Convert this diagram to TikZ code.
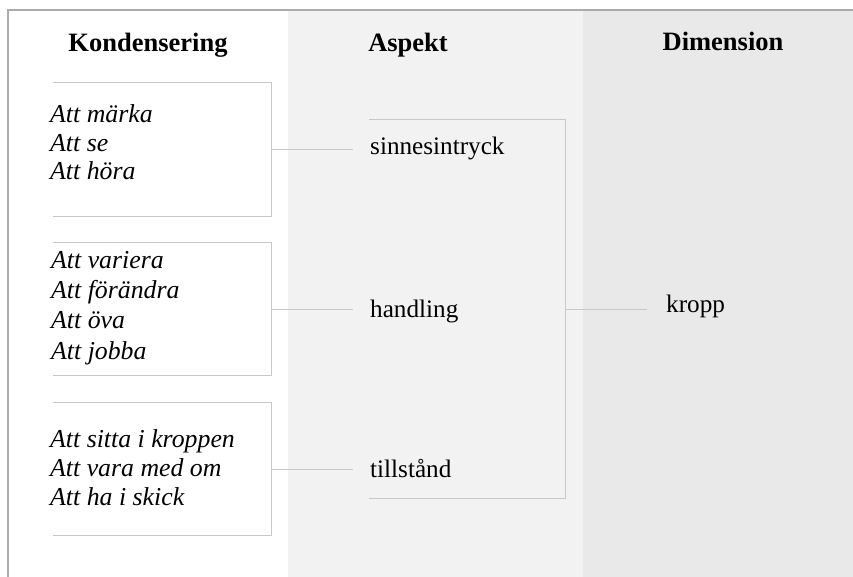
\documentclass[tikz,border=0pt]{standalone}
\usepackage{fontspec}
\setmainfont{Liberation Serif}
\definecolor{coltwo}{HTML}{F2F2F2}
\definecolor{colthree}{HTML}{E9E9E9}
\definecolor{linec}{HTML}{C8C8C8}
\definecolor{borderc}{HTML}{ABABAB}
\tikzset{
  head/.style={font=\fontsize{26.5}{30}\selectfont\bfseries, anchor=base, inner sep=0pt},
  itemtext/.style={font=\fontsize{25.8}{28.7}\selectfont\itshape, align=left, anchor=base west, inner sep=0pt},
  frame/.style={minimum width=218pt, inner sep=0pt},
  lbl/.style={font=\fontsize{25.2}{28}\selectfont, anchor=west, text height=17pt, text depth=5pt, inner ysep=0pt},
  conn/.style={draw=linec, line width=0.8pt},
  openbox/.style={draw=linec, line width=0.9pt}
}
\begin{document}
\begin{tikzpicture}[x=1pt,y=-1pt]
\useasboundingbox (0,0) rectangle (853,577);
% column backgrounds
\fill[coltwo] (288,11) rectangle (583,577);
\fill[colthree] (583,11) rectangle (853,577);
\draw[borderc, line width=1.2pt] (8,577) -- (8,10) -- (853,10);
% headers
\node[head] (h1) at (148,52) {Kondensering};
\node[head] (h2) at (408,52) {Aspekt};
\node[head] (h3) at (723,51) {Dimension};
% boxes
\node[frame, minimum height=133pt] (b1) at (162,149.5) {};
\node[frame, minimum height=132pt] (b2) at (162,309) {};
\node[frame, minimum height=132pt] (b3) at (162,469) {};
\foreach \b in {b1,b2,b3}{
  \draw[openbox] (\b.north west) -- (\b.north east) -- (\b.south east) -- (\b.south west);
}
\node[itemtext] (t1) at (50,180) {Att märka\\Att se\\Att höra};
\node[itemtext, font=\fontsize{25.8}{30.3}\selectfont\itshape] (t2) at (51,359) {Att variera\\Att förändra\\Att öva\\Att jobba};
\node[itemtext] (t3) at (50,505) {Att sitta i kroppen\\Att vara med om\\Att ha i skick};
% aspects
\node[lbl, inner xsep=17pt] (a1) at (353,149) {sinnesintryck};
\node[lbl, inner xsep=17pt] (a2) at (353,311) {handling};
\node[lbl, inner xsep=17pt] (a3) at (353,471) {tillstånd};
\draw[conn] (b1.east) -- (b1.east -| a1.west);
\draw[conn] (b2.east) -- (b2.east -| a2.west);
\draw[conn] (b3.east) -- (b3.east -| a3.west);
% bracket
\node[minimum width=196pt, minimum height=378pt, inner sep=0pt] (br) at (467,309) {};
\draw[openbox] (br.north west) -- (br.north east) -- (br.south east) -- (br.south west);
% dimension
\node[lbl, inner xsep=19pt] (d1) at (647,306) {kropp};
\draw[conn] (br.east) -- (br.east -| d1.west);
\end{tikzpicture}
\end{document}
